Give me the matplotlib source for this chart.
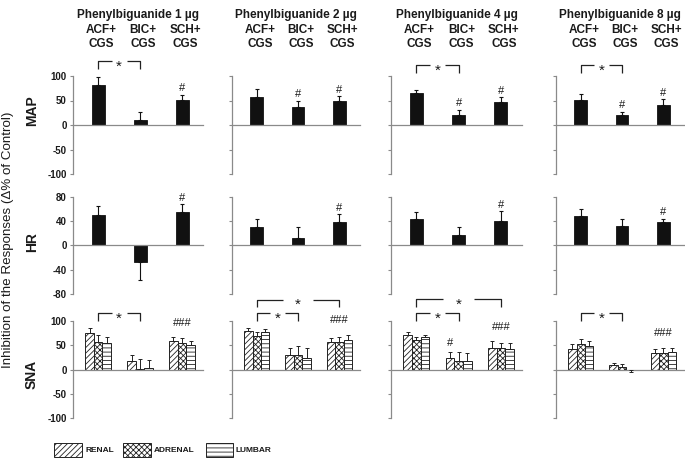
import matplotlib
matplotlib.use("Agg")
import matplotlib.pyplot as plt
from matplotlib.patches import Rectangle
import numpy as np

plt.rcParams['font.family'] = ['Liberation Sans', 'DejaVu Sans']
plt.rcParams['hatch.linewidth'] = 0.6
plt.rcParams['axes.unicode_minus'] = False

# ---------------- data ----------------
doses = ["Phenylbiguanide 1 µg", "Phenylbiguanide 2 µg",
         "Phenylbiguanide 4 µg", "Phenylbiguanide 8 µg"]
groups = ["ACF+\nCGS", "BIC+\nCGS", "SCH+\nCGS"]
row_names = ["MAP", "HR", "SNA"]
nerves = ["RENAL", "ADRENAL", "LUMBAR"]

map_mean = [[82, 11, 51], [58, 36, 50], [65, 20, 46], [52, 20, 41]]
map_err = [[15, 15, 11], [15, 14, 9], [6, 11, 11], [11, 7, 12]]
hr_mean = [[50, -27, 56], [30, 12, 39], [44, 18, 40], [49, 32, 38]]
hr_err = [[15, 30, 12], [14, 19, 13], [11, 13, 17], [11, 12, 6]]

sna_renal_mean = [[76, 17, 58], [80, 29, 57], [71, 24, 44], [42, 9, 33]]
sna_renal_err = [[9, 13, 8], [5, 16, 8], [6, 12, 14], [10, 5, 10]]
sna_adrenal_mean = [[56, 2, 54], [70, 30, 57], [61, 18, 44], [53, 5, 33]]
sna_adrenal_err = [[15, 20, 10], [7, 18, 10], [7, 18, 11], [9, 7, 11]]
sna_lumbar_mean = [[55, 4, 51], [77, 23, 61], [67, 17, 42], [48, -2, 36]]
sna_lumbar_err = [[11, 16, 7], [7, 21, 10], [5, 16, 12], [10, 3, 8]]

map_hash = [["", "", "#"], ["", "#", "#"], ["", "#", "#"], ["", "#", "#"]]
hr_hash = [["", "", "#"], ["", "", "#"], ["", "", "#"], ["", "", "#"]]
sna_group_hash = [["", "", "###"], ["", "", "###"], ["", "", "###"], ["", "", "###"]]
sna_renal_hash = [["", "", ""], ["", "", ""], ["", "#", ""], ["", "", ""]]

# brackets: (row, col, from group, to group, y top)
brackets = [(0, 0, 0, 1, 130), (0, 2, 0, 1, 122), (0, 3, 0, 1, 122),
            (2, 0, 0, 1, 116), (2, 1, 0, 1, 116), (2, 1, 0, 2, 144),
            (2, 2, 0, 1, 116), (2, 2, 0, 2, 145), (2, 3, 0, 1, 116)]

map_ticks = [100, 50, 0, -50, -100]
hr_ticks = [80, 40, 0, -40, -80]
sna_ticks = [100, 50, 0, -50, -100]

# ---------------- layout ----------------
W, H = 685, 459
fig = plt.figure(figsize=(W / 100, H / 100), dpi=100)
col_px = [(73, 203), (232, 360), (391, 522), (556, 684)]
row_px = [(76, 174), (197, 294), (321, 418)]
GRAY = "#8a8a8a"
TXT = "#1a1a1a"
BAR = "#111111"
hatches = ["//////", "xxxxxx", "----"]


def rect(l, r, t, b):
    return [l / W, 1 - b / H, (r - l) / W, (b - t) / H]


x = np.arange(3)
axes = {}
for ri, (rt, rb) in enumerate(row_px):
    for ci, (cl, cr) in enumerate(col_px):
        ax = fig.add_axes(rect(cl, cr, rt, rb))
        axes[(ri, ci)] = ax
        ticks = [map_ticks, hr_ticks, sna_ticks][ri]
        ax.set_ylim(min(ticks), max(ticks))
        ax.set_xlim(-0.6, 2.5)
        ax.set_yticks(ticks)
        for s in ["top", "right"]:
            ax.spines[s].set_visible(False)
        ax.spines["bottom"].set_position(("data", 0))
        ax.spines["left"].set_color(GRAY)
        ax.spines["bottom"].set_color(GRAY)
        ax.spines["left"].set_linewidth(0.9)
        ax.spines["bottom"].set_linewidth(0.9)
        ax.set_xticks([])
        ax.tick_params(axis="y", length=2.5, width=0.8, color=GRAY,
                       labelsize=7, pad=2, labelcolor=TXT)
        if ci == 0:
            for lab in ax.get_yticklabels():
                lab.set_fontweight("bold")
        else:
            ax.set_yticklabels([])
        ax.patch.set_alpha(0)

        if ri < 2:
            mean = [map_mean, hr_mean][ri][ci]
            err = [map_err, hr_err][ri][ci]
            hsh = [map_hash, hr_hash][ri][ci]
            ax.bar(x, mean, width=0.31, color=BAR, edgecolor=BAR, linewidth=0.6, zorder=2)
            for i in range(3):
                m, e = mean[i], err[i]
                ye = [[0], [e]] if m >= 0 else [[e], [0]]
                ax.errorbar([x[i]], [m], yerr=ye, fmt="none", ecolor=BAR,
                            elinewidth=0.8, capsize=1.5, capthick=0.8, zorder=3)
                if hsh[i]:
                    ax.annotate(hsh[i], (x[i], m + e), xytext=(0, 1),
                                textcoords="offset points", ha="center",
                                va="bottom", fontsize=8, color=TXT)
        else:
            means = [sna_renal_mean[ci], sna_adrenal_mean[ci], sna_lumbar_mean[ci]]
            errs = [sna_renal_err[ci], sna_adrenal_err[ci], sna_lumbar_err[ci]]
            bw = 0.205
            for k in range(3):
                xs = x + (k - 1) * bw
                ax.bar(xs, means[k], width=bw, color="white", edgecolor="#222222",
                       hatch=hatches[k], linewidth=0.7, zorder=2)
                for i in range(3):
                    m, e = means[k][i], errs[k][i]
                    ye = [[0], [e]] if m >= 0 else [[e], [0]]
                    ax.errorbar([xs[i]], [m], yerr=ye, fmt="none", ecolor="#222222",
                                elinewidth=0.7, capsize=1.2, capthick=0.7, zorder=3)
            for i in range(3):
                if sna_group_hash[ci][i]:
                    top = max(means[k][i] + errs[k][i] for k in range(3))
                    ax.annotate(sna_group_hash[ci][i], (x[i], top), xytext=(0, 7),
                                textcoords="offset points", ha="center",
                                va="bottom", fontsize=8, color=TXT)
                if sna_renal_hash[ci][i]:
                    ax.annotate(sna_renal_hash[ci][i],
                                (x[i] - bw, sna_renal_mean[ci][i] + sna_renal_err[ci][i]),
                                xytext=(0, 3), textcoords="offset points", ha="center",
                                va="bottom", fontsize=8, color=TXT)

# brackets with stars
for (ri, ci, i, j, yt) in brackets:
    ax = axes[(ri, ci)]
    drop = 16
    span = j - i
    mid = (i + j) / 2
    gap = 0.18 * span
    kw = dict(color="#222222", lw=0.9, clip_on=False, solid_capstyle="butt")
    ax.plot([i, i, mid - gap], [yt - drop, yt, yt], **kw)
    ax.plot([mid + gap, j, j], [yt, yt, yt - drop], **kw)
    ax.annotate("*", (mid, yt), xytext=(0, -4), textcoords="offset points",
                ha="center", va="center", fontsize=11, color=TXT,
                annotation_clip=False)

# titles and group headers
for ci, (cl, cr) in enumerate(col_px):
    fig.text((cl + cr) / 2 / W, 1 - 15 / H, doses[ci], ha="center", va="center",
             fontsize=8.5, fontweight="bold", color=TXT)
    ax = axes[(0, ci)]
    for i in range(3):
        xd = ax.transData.transform((x[i], 0))[0]
        fig.text((xd + 3) / W, 1 - 37 / H, groups[i], ha="center", va="center",
                 fontsize=8.5, fontweight="bold", color=TXT, linespacing=1.2)

# row labels
for ri, (rt, rb) in enumerate(row_px):
    yc = [111, 242, 374][ri]
    fig.text(32 / W, 1 - yc / H, row_names[ri], rotation=90, ha="center",
             va="center", fontsize=10, fontweight="bold", color=TXT)

fig.text(8 / W, 1 - 240 / H, "Inhibition of the Responses (\u0394% of Control)",
         rotation=90, ha="center", va="center", fontsize=9.6, color=TXT)

# legend (manual)
leg_boxes = [(54, 82), (123, 151), (206, 233)]
for k, (bl, br) in enumerate(leg_boxes):
    r = Rectangle((bl / W, 1 - 457 / H), (br - bl) / W, 14 / H,
                  transform=fig.transFigure, facecolor="white",
                  edgecolor="#222222", hatch=hatches[k], linewidth=0.7)
    fig.add_artist(r)
    fig.text((br + 3) / W, 1 - 451 / H, nerves[k], ha="left", va="center",
             fontsize=6, fontweight="bold", color=TXT)

fig.savefig("out.png", dpi=100)
